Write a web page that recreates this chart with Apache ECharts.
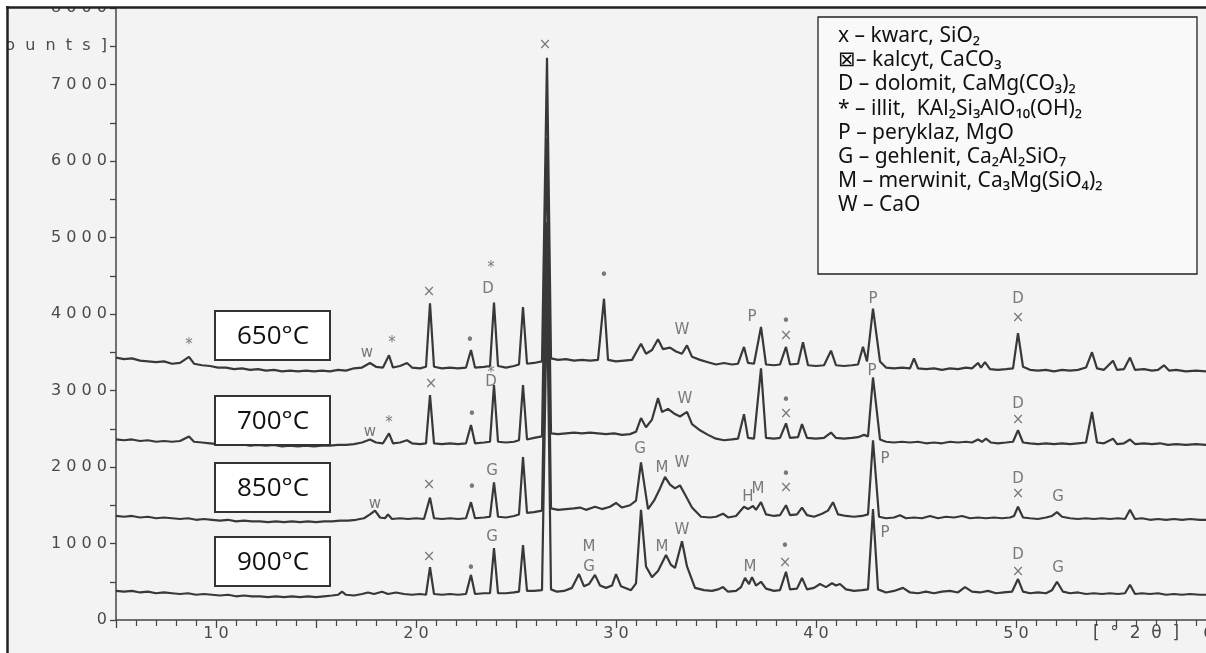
<!DOCTYPE html>
<html>
<head>
<meta charset="utf-8">
<title>XRD 650-900</title>
<script src="https://cdn.jsdelivr.net/npm/echarts@6/dist/echarts.min.js"></script>
<style>
html, body { margin: 0; padding: 0; background: #fff; }
#chart { width: 1206px; height: 653px; }
</style>
</head>
<body>
<div id="chart"></div>
<script>
// diffractograms, [2theta, counts]
const t650 = [[5,3430],[5.4,3410],[5.8,3420],[6.2,3390],[6.6,3380],[7,3370],[7.4,3380],[7.8,3350],[8.2,3360],[8.65,3440],[8.9,3350],[9.3,3330],[9.7,3320],[10.1,3300],[10.5,3300],[10.9,3280],[11.3,3290],[11.7,3270],[12.1,3280],[12.5,3260],[12.9,3270],[13.3,3250],[13.7,3260],[14.1,3250],[14.5,3260],[14.9,3250],[15.3,3260],[15.7,3250],[16.1,3270],[16.5,3260],[16.9,3290],[17.3,3300],[17.7,3360],[18.0,3310],[18.35,3300],[18.65,3460],[18.85,3300],[19.2,3320],[19.55,3360],[19.8,3300],[20.2,3290],[20.5,3310],[20.7,4140],[20.9,3310],[21.3,3290],[21.7,3300],[22.1,3290],[22.5,3300],[22.75,3530],[22.95,3300],[23.4,3310],[23.7,3320],[23.9,4150],[24.1,3320],[24.5,3300],[24.9,3320],[25.15,3340],[25.35,4090],[25.55,3350],[25.9,3360],[26.3,3380],[26.55,7350],[26.75,3420],[27.1,3400],[27.5,3410],[27.9,3390],[28.3,3400],[28.7,3390],[29.1,3400],[29.4,4200],[29.6,3400],[30.0,3380],[30.4,3390],[30.8,3400],[31.25,3610],[31.5,3480],[31.8,3530],[32.1,3670],[32.35,3540],[32.7,3560],[33.0,3510],[33.3,3480],[33.55,3590],[33.8,3440],[34.2,3400],[34.6,3370],[35.0,3340],[35.4,3360],[35.8,3340],[36.1,3350],[36.4,3570],[36.6,3360],[36.9,3350],[37.25,3830],[37.5,3340],[37.9,3330],[38.2,3340],[38.5,3570],[38.7,3340],[39.1,3350],[39.35,3630],[39.6,3330],[40.0,3320],[40.4,3330],[40.75,3520],[41.0,3330],[41.4,3320],[41.8,3330],[42.1,3340],[42.35,3570],[42.55,3380],[42.85,4070],[43.2,3380],[43.5,3300],[43.9,3290],[44.3,3300],[44.7,3290],[44.9,3420],[45.1,3290],[45.5,3280],[45.9,3290],[46.3,3270],[46.7,3290],[47.1,3280],[47.5,3300],[47.8,3290],[48.1,3360],[48.25,3300],[48.45,3370],[48.7,3280],[49.1,3270],[49.5,3280],[49.85,3290],[50.1,3750],[50.35,3310],[50.7,3270],[51.1,3260],[51.5,3270],[51.9,3250],[52.3,3270],[52.7,3260],[53.1,3270],[53.5,3300],[53.8,3500],[54.05,3290],[54.4,3270],[54.85,3390],[55.05,3270],[55.4,3280],[55.7,3430],[55.95,3270],[56.4,3280],[56.8,3260],[57.1,3270],[57.4,3330],[57.65,3260],[58,3270],[58.5,3250],[59,3260],[59.5,3250],[60,3260]];

const t700 = [[5,2360],[5.4,2350],[5.8,2360],[6.2,2340],[6.6,2350],[7,2330],[7.4,2340],[7.8,2330],[8.2,2340],[8.65,2400],[8.9,2330],[9.3,2320],[9.7,2310],[10.1,2300],[10.5,2300],[10.9,2290],[11.3,2300],[11.7,2280],[12.1,2290],[12.5,2280],[12.9,2290],[13.3,2270],[13.7,2280],[14.1,2270],[14.5,2280],[14.9,2270],[15.3,2280],[15.7,2280],[16.1,2290],[16.5,2290],[16.9,2300],[17.3,2320],[17.7,2360],[18.0,2320],[18.35,2310],[18.65,2440],[18.85,2310],[19.2,2320],[19.55,2350],[19.8,2310],[20.2,2300],[20.5,2310],[20.7,2940],[20.9,2310],[21.3,2300],[21.7,2310],[22.1,2300],[22.5,2310],[22.75,2550],[22.95,2310],[23.4,2320],[23.7,2330],[23.9,3070],[24.1,2330],[24.5,2320],[24.9,2330],[25.15,2350],[25.35,3070],[25.55,2360],[25.9,2380],[26.3,2400],[26.55,6300],[26.75,2440],[27.1,2430],[27.5,2440],[27.9,2450],[28.3,2440],[28.7,2450],[29.1,2440],[29.5,2430],[29.9,2440],[30.3,2420],[30.7,2430],[31.0,2460],[31.25,2640],[31.5,2520],[31.8,2620],[32.1,2900],[32.3,2720],[32.6,2760],[32.9,2700],[33.2,2660],[33.55,2720],[33.8,2560],[34.2,2480],[34.6,2420],[35.0,2370],[35.4,2350],[35.8,2360],[36.1,2370],[36.4,2690],[36.6,2380],[36.9,2370],[37.25,3290],[37.5,2380],[37.9,2370],[38.2,2380],[38.5,2570],[38.7,2380],[39.1,2390],[39.3,2560],[39.55,2380],[40.0,2370],[40.4,2380],[40.75,2450],[41.0,2380],[41.4,2370],[41.8,2380],[42.1,2390],[42.4,2420],[42.6,2400],[42.85,3170],[43.2,2360],[43.5,2330],[43.9,2320],[44.3,2330],[44.7,2320],[45.1,2330],[45.5,2310],[45.9,2320],[46.3,2310],[46.7,2330],[47.1,2320],[47.5,2330],[47.8,2320],[48.1,2360],[48.3,2330],[48.5,2370],[48.75,2320],[49.1,2310],[49.5,2320],[49.85,2330],[50.1,2480],[50.35,2320],[50.7,2310],[51.1,2300],[51.5,2310],[51.9,2300],[52.3,2310],[52.7,2300],[53.1,2310],[53.5,2320],[53.8,2720],[54.05,2320],[54.4,2310],[54.85,2370],[55.05,2300],[55.4,2310],[55.7,2360],[55.95,2300],[56.4,2310],[56.8,2300],[57.2,2310],[57.6,2290],[58,2300],[58.5,2290],[59,2300],[59.5,2290],[60,2300]];

const t850 = [[5,1360],[5.4,1350],[5.8,1360],[6.2,1340],[6.6,1350],[7,1330],[7.4,1340],[7.8,1330],[8.2,1320],[8.6,1330],[9.0,1310],[9.4,1320],[9.8,1310],[10.2,1300],[10.6,1310],[11,1290],[11.4,1300],[11.8,1290],[12.2,1290],[12.6,1280],[13,1290],[13.4,1280],[13.8,1290],[14.2,1280],[14.6,1290],[15,1280],[15.4,1290],[15.8,1290],[16.2,1300],[16.6,1300],[17.0,1310],[17.4,1330],[17.7,1380],[17.95,1430],[18.2,1340],[18.45,1330],[18.6,1380],[18.8,1320],[19.2,1330],[19.6,1320],[20.0,1330],[20.4,1320],[20.7,1600],[20.9,1330],[21.3,1320],[21.7,1330],[22.1,1320],[22.5,1330],[22.75,1540],[22.95,1330],[23.4,1340],[23.7,1350],[23.9,1800],[24.1,1350],[24.5,1340],[24.9,1360],[25.15,1380],[25.35,2130],[25.55,1400],[25.9,1410],[26.3,1430],[26.55,5200],[26.75,1460],[27.1,1440],[27.5,1450],[27.9,1460],[28.2,1470],[28.5,1440],[28.95,1480],[29.3,1450],[29.7,1480],[30.0,1530],[30.3,1470],[30.7,1500],[31.0,1560],[31.25,2060],[31.6,1450],[31.9,1560],[32.2,1720],[32.45,1870],[32.7,1770],[32.95,1720],[33.2,1760],[33.45,1640],[33.8,1470],[34.25,1350],[34.7,1340],[35.0,1350],[35.35,1390],[35.6,1340],[36.0,1360],[36.4,1480],[36.6,1450],[36.85,1490],[37.0,1440],[37.25,1540],[37.5,1380],[37.9,1360],[38.2,1370],[38.5,1500],[38.7,1370],[39.05,1380],[39.3,1470],[39.55,1370],[39.9,1350],[40.3,1390],[40.6,1430],[40.85,1540],[41.1,1380],[41.5,1360],[41.9,1350],[42.3,1360],[42.6,1380],[42.85,2350],[43.15,1350],[43.5,1330],[43.9,1340],[44.2,1370],[44.5,1330],[44.9,1340],[45.3,1330],[45.7,1360],[46.1,1330],[46.5,1350],[46.9,1340],[47.3,1360],[47.7,1330],[48.1,1340],[48.5,1330],[48.9,1340],[49.3,1330],[49.7,1340],[49.9,1360],[50.1,1480],[50.35,1340],[50.7,1330],[51.1,1320],[51.5,1340],[51.8,1360],[52.05,1410],[52.3,1350],[52.7,1330],[53.1,1320],[53.5,1330],[53.9,1320],[54.3,1330],[54.7,1320],[55.1,1330],[55.45,1320],[55.7,1440],[55.95,1320],[56.3,1330],[56.7,1310],[57.1,1320],[57.5,1310],[57.9,1320],[58.3,1310],[58.7,1320],[59.2,1310],[60,1310]];

const t900 = [[5,380],[5.4,370],[5.8,380],[6.2,360],[6.6,370],[7,350],[7.4,360],[7.8,350],[8.2,340],[8.6,350],[9.0,330],[9.4,340],[9.8,330],[10.2,320],[10.6,330],[11,310],[11.4,320],[11.8,310],[12.2,310],[12.6,300],[13,310],[13.4,300],[13.8,310],[14.2,300],[14.6,310],[15,300],[15.4,310],[15.8,320],[16.1,330],[16.3,370],[16.5,330],[16.9,320],[17.3,340],[17.6,360],[17.9,340],[18.3,370],[18.6,340],[19.0,360],[19.4,340],[19.8,330],[20.2,340],[20.5,330],[20.7,690],[20.9,340],[21.3,330],[21.7,340],[22.1,330],[22.5,340],[22.75,590],[22.95,340],[23.4,350],[23.7,350],[23.9,940],[24.1,350],[24.5,350],[24.9,360],[25.15,370],[25.35,980],[25.55,380],[25.9,380],[26.3,390],[26.55,4300],[26.75,400],[27.05,370],[27.4,380],[27.8,420],[28.15,600],[28.4,440],[28.65,470],[28.95,590],[29.2,450],[29.5,420],[29.8,450],[30.0,600],[30.25,440],[30.75,390],[31.0,480],[31.25,1440],[31.5,700],[31.8,560],[32.1,640],[32.5,850],[32.75,720],[32.95,680],[33.3,1030],[33.55,700],[33.95,420],[34.4,390],[34.8,380],[35.1,400],[35.35,430],[35.6,370],[36.0,380],[36.25,430],[36.45,550],[36.65,470],[36.8,560],[37.0,450],[37.25,500],[37.5,410],[37.9,380],[38.2,390],[38.5,630],[38.7,400],[39.05,410],[39.3,550],[39.55,400],[39.9,420],[40.2,470],[40.5,430],[40.8,480],[41.0,450],[41.2,470],[41.5,400],[41.9,380],[42.3,390],[42.6,400],[42.85,1450],[43.1,400],[43.5,360],[43.9,380],[44.35,420],[44.7,360],[45.1,350],[45.5,370],[45.9,350],[46.3,370],[46.7,380],[47.1,360],[47.45,430],[47.8,370],[48.2,360],[48.6,380],[49.0,350],[49.4,360],[49.8,370],[50.1,535],[50.35,370],[50.7,350],[51.1,360],[51.5,350],[51.8,390],[52.05,500],[52.35,370],[52.7,350],[53.1,360],[53.5,340],[53.9,350],[54.3,340],[54.7,350],[55.1,340],[55.45,350],[55.7,460],[55.95,340],[56.3,350],[56.7,340],[57.1,350],[57.5,330],[57.9,340],[58.3,330],[58.7,340],[59.2,330],[60,330]];

const temps = ['650°C', '700°C', '850°C', '900°C'];

// handwritten phase marks: [2theta, counts, symbol]
const marks650 = [[8.65,3590,'*'],[17.55,3490,'w'],[18.8,3620,'*'],[20.65,4280,'×'],[22.7,3650,'•'],[23.6,4330,'D'],[23.75,4600,'*'],[26.45,7510,'×'],[29.4,4500,'•'],[33.3,3790,'W'],[36.8,3960,'P'],[38.5,3900,'•'],[38.5,3710,'×'],[42.85,4200,'P'],[50.1,4200,'D'],[50.1,3940,'×']];
const marks700 = [[17.7,2450,'w'],[18.65,2580,'*'],[20.75,3090,'×'],[22.8,2680,'•'],[23.75,3110,'D'],[23.75,3230,'*'],[33.45,2890,'W'],[38.5,2860,'•'],[38.5,2690,'×'],[42.8,3250,'P'],[50.1,2820,'D'],[50.1,2610,'×']];
const marks850 = [[17.95,1510,'w'],[20.65,1760,'×'],[22.8,1720,'•'],[23.8,1950,'G'],[31.2,2230,'G'],[32.3,1990,'M'],[33.3,2050,'W'],[36.6,1610,'H'],[37.1,1710,'M'],[38.5,1890,'•'],[38.5,1720,'×'],[43.45,2100,'P'],[50.1,1840,'D'],[50.1,1640,'×'],[52.1,1610,'G']];
const marks900 = [[20.65,820,'×'],[22.75,665,'•'],[23.8,1080,'G'],[28.65,950,'M'],[28.65,690,'G'],[32.3,950,'M'],[33.3,1170,'W'],[36.7,690,'M'],[38.45,950,'•'],[38.45,745,'×'],[43.45,1140,'P'],[50.1,850,'D'],[50.1,630,'×'],[52.1,680,'G']];

const legendLines = [
    'x – kwarc, SiO₂',
    '⊠– kalcyt, CaCO₃',
    'D – dolomit, CaMg(CO₃)₂',
    '* – illit,  KAl₂Si₃AlO₁₀(OH)₂',
    'P – peryklaz, MgO',
    'G – gehlenit, Ca₂Al₂SiO₇',
    'M – merwinit, Ca₃Mg(SiO₄)₂',
    'W – CaO'
];

const lineColor = '#383838';
const plotFont = 'DejaVu Sans';
const spaced = s => String(s).split('').join(' ');

const chart = echarts.init(document.getElementById('chart'));

const traceSeries = [t650, t700, t850, t900].map((d, i) => ({
    name: temps[i],
    type: 'line',
    data: d,
    symbol: 'none',
    showSymbol: false,
    silent: true,
    lineStyle: { color: lineColor, width: 2.2 },
    z: 2
}));

const allMarks = [].concat(marks650, marks700, marks850, marks900);

// boxes with the firing temperature
const boxTops = [311, 396, 463, 537];
const tempGraphics = [];
boxTops.forEach((top, i) => {
    tempGraphics.push({
        type: 'rect', z: 60,
        shape: { x: 215, y: top, width: 115, height: 49 },
        style: { fill: '#ffffff', stroke: '#333', lineWidth: 2 }
    });
    tempGraphics.push({
        type: 'text', z: 61, x: 273, y: top + 26,
        style: { text: temps[i], font: '26px "Open Sans"', fill: '#111', align: 'center', verticalAlign: 'middle' }
    });
});

const legendGraphics = [{
    type: 'rect', z: 60,
    shape: { x: 818, y: 17, width: 379, height: 257 },
    style: { fill: '#f9f9f9', stroke: '#222', lineWidth: 1.3 }
}].concat(legendLines.map((t, i) => ({
    type: 'text', z: 61, x: 838, y: 36 + i * 24.2,
    style: { text: t, font: '21px "Noto Sans"', fill: '#111', verticalAlign: 'middle' }
})));

chart.setOption({
    animation: false,
    backgroundColor: '#f3f3f3',
    grid: { left: 116, top: 8, width: 1100, height: 612, outerBoundsMode: 'none', containLabel: false },
    xAxis: {
        type: 'value', min: 5, max: 60, interval: 5,
        axisLine: { show: true, onZero: false, lineStyle: { color: '#444', width: 1.5 } },
        axisTick: { show: true, length: 8, lineStyle: { color: '#444', width: 1.3 } },
        minorTick: { show: true, splitNumber: 5, length: 6, lineStyle: { color: '#444', width: 1.2 } },
        splitLine: { show: false },
        axisLabel: {
            margin: 6, color: '#4a4a4a', fontFamily: plotFont, fontSize: 16,
            formatter: v => (v % 10 === 0 ? spaced(v) : '')
        }
    },
    yAxis: {
        type: 'value', min: 0, max: 8000, interval: 500,
        axisLine: { show: true, lineStyle: { color: '#444', width: 1.5 } },
        axisTick: { show: true, length: 6, lineStyle: { color: '#444', width: 1.3 } },
        splitLine: { show: false },
        axisLabel: {
            margin: 9, color: '#4a4a4a', fontFamily: plotFont, fontSize: 16,
            formatter: v => (v % 1000 === 0 ? spaced(v) : (v === 7500 ? '[  c  o  u  n  t  s  ]' : ''))
        }
    },
    series: traceSeries.concat([{
        type: 'scatter',
        data: allMarks.map(m => ({ value: [m[0], m[1]], name: m[2] })),
        symbolSize: 1,
        itemStyle: { color: 'rgba(0,0,0,0)' },
        silent: true,
        z: 5,
        label: {
            show: true, position: 'inside', formatter: '{b}',
            fontFamily: plotFont, fontSize: 15, color: '#5a5a5a'
        }
    }]),
    graphic: [
        { type: 'text', z: 40, x: 1136, y: 634,
          style: { text: '[  °  2  θ  ]', font: '17px "DejaVu Sans"', fill: '#4a4a4a', align: 'center', verticalAlign: 'middle' } },
        // paper edge and scan frame
        { type: 'rect', z: 90, shape: { x: 0, y: 0, width: 1206, height: 7 }, style: { fill: '#ffffff' } },
        { type: 'rect', z: 90, shape: { x: 0, y: 0, width: 7, height: 653 }, style: { fill: '#ffffff' } },
        { type: 'line', z: 91, shape: { x1: 6, y1: 7.5, x2: 1206, y2: 7.5 }, style: { stroke: '#222', lineWidth: 2.5 } },
        { type: 'line', z: 91, shape: { x1: 7.5, y1: 6, x2: 7.5, y2: 653 }, style: { stroke: '#222', lineWidth: 2.5 } }
    ].concat(tempGraphics, legendGraphics)
});
</script>
</body>
</html>
